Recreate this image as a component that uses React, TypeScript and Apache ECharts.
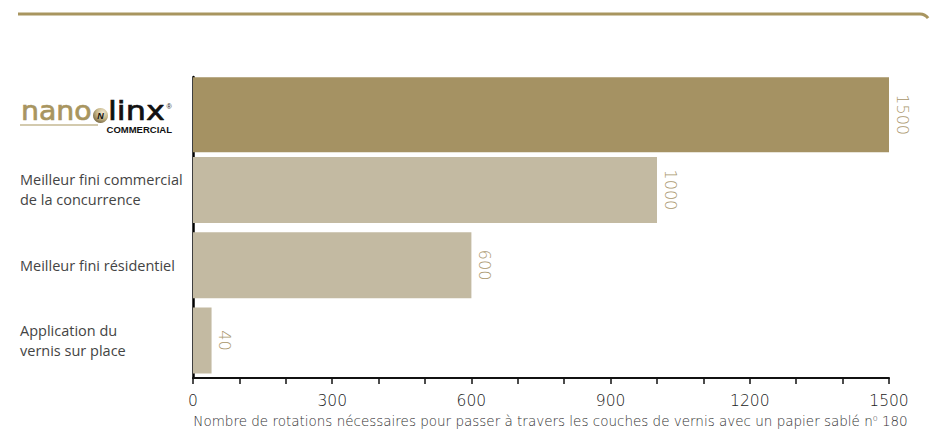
import React, { useEffect, useRef } from "react";
import * as echarts from "echarts";

const categories = [
  "nanolinx COMMERCIAL",
  "Meilleur fini commercial\nde la concurrence",
  "Meilleur fini résidentiel",
  "Application du\nvernis sur place",
];
const nanolinxValues = [1500, "-", "-", "-"];
const otherValues = ["-", 1000, 600, 40];
const xAxisName = "Nombre de rotations nécessaires pour passer à travers les couches de vernis avec un papier sablé n{sup|o} 180";

const GOLD = "#a59263";
const LIGHT = "#c3baa2";
const LABEL_GOLD = "#a8956a";
const LINE_GOLD = "#a8955f";

export default function App() {
  const ref = useRef<HTMLDivElement>(null);
  useEffect(() => {
    document.body.style.margin = "0";
    if (!ref.current) return;
    const chart = echarts.init(ref.current, null, { renderer: "svg" });
    const barLabel = {
      show: true,
      position: "right",
      rotate: -90,
      distance: 13,
      align: "center",
      verticalAlign: "middle",
      fontSize: 16,
      fontFamily: "DejaVu Sans",
      fontWeight: 200,
      color: LABEL_GOLD,
    };
    chart.setOption({
      animation: false,
      grid: { left: 193, right: 45, top: 77, bottom: 53, containLabel: false, outerBoundsMode: "none" },
      xAxis: {
        type: "value",
        min: 0,
        max: 1500,
        interval: 300,
        name: xAxisName,
        nameLocation: "middle",
        nameGap: 36,
        nameTextStyle: {
          fontSize: 13.5,
          fontFamily: "DejaVu Sans",
          fontWeight: 200,
          color: "#333",
          padding: [0, 0, 0, 19],
          rich: { sup: { fontSize: 8, verticalAlign: "top", padding: [0, 0, 5, 0], color: "#333", fontFamily: "DejaVu Sans", fontWeight: 200 } },
        },
        axisLine: { show: true, lineStyle: { color: "#111", width: 2 } },
        axisTick: { show: true, length: 6, lineStyle: { color: "#111", width: 1.5 } },
        minorTick: { show: true, splitNumber: 3, length: 6, lineStyle: { color: "#111", width: 1.5 } },
        splitLine: { show: false },
        minorSplitLine: { show: false },
        axisLabel: {
          fontSize: 15.5,
          fontFamily: "DejaVu Sans",
          fontWeight: 200,
          color: "#222",
          margin: 15,
          formatter: (v: number) => String(v),
        },
      },
      yAxis: [
        {
          type: "category",
          inverse: true,
          data: categories,
          axisLine: { show: true, lineStyle: { color: "#000", width: 2.5 } },
          axisTick: { show: false },
          axisLabel: {
            align: "left",
            margin: 173,
            fontSize: 14.5,
            lineHeight: 20,
            fontFamily: "Open Sans",
            color: "#444",
            formatter: (v: string, i: number) => (i === 0 ? "" : v),
          },
        },
        {
          type: "category",
          inverse: true,
          position: "left",
          data: categories,
          axisLine: { show: false },
          axisTick: { show: false },
          axisLabel: { show: false },
        },
      ],
      series: [
        {
          type: "bar",
          yAxisIndex: 0,
          data: nanolinxValues,
          barWidth: 75,
          itemStyle: { color: GOLD },
          label: barLabel,
        },
        {
          type: "bar",
          yAxisIndex: 1,
          data: otherValues,
          barWidth: 66,
          itemStyle: { color: LIGHT },
          label: barLabel,
        },
      ],
      graphic: [
        { type: "line", shape: { x1: 18, y1: 14, x2: 920, y2: 14 }, style: { stroke: LINE_GOLD, lineWidth: 3 } },
        {
          type: "arc",
          shape: { cx: 920, cy: 24, r: 10, startAngle: -Math.PI / 2, endAngle: -Math.PI / 5, clockwise: true },
          style: { stroke: LINE_GOLD, lineWidth: 3, fill: "none" },
        },
        {
          type: "text",
          x: 21,
          y: 110.7,
          scaleX: 1.05,
          style: { text: "nano", font: "27px 'DejaVu Sans'", fill: "#a8955f", stroke: "#a8955f", lineWidth: 0.7, textVerticalAlign: "middle" },
        },
        {
          type: "circle",
          shape: { cx: 100.5, cy: 115.5, r: 7.5 },
          style: {
            fill: new echarts.graphic.RadialGradient(0.65, 0.3, 0.8, [
              { offset: 0, color: "#f0e8d2" },
              { offset: 0.5, color: "#c8b88a" },
              { offset: 1, color: "#6e5f3a" },
            ]),
          },
        },
        {
          type: "text",
          x: 100.5,
          y: 115.5,
          style: { text: "N", font: "italic bold 9px 'Liberation Sans'", fill: "#111", textAlign: "center", textVerticalAlign: "middle" },
        },
        {
          type: "text",
          x: 108,
          y: 110.7,
          scaleX: 1.18,
          style: { text: "linx", font: "27px 'DejaVu Sans'", fill: "#111", stroke: "#111", lineWidth: 0.7, textVerticalAlign: "middle" },
        },
        {
          type: "text",
          x: 166.5,
          y: 106,
          style: { text: "®", font: "7px 'Liberation Sans'", fill: "#111", textVerticalAlign: "middle" },
        },
        { type: "line", shape: { x1: 20, y1: 125, x2: 98, y2: 125 }, style: { stroke: LINE_GOLD, lineWidth: 1.2 } },
        {
          type: "text",
          x: 172,
          y: 129.5,
          style: { text: "COMMERCIAL", font: "bold 9.5px 'Liberation Sans'", fill: "#111", textAlign: "right", textVerticalAlign: "middle" },
        },
      ],
    });
    return () => chart.dispose();
  }, []);
  return <div ref={ref} style={{ width: 934, height: 431 }} />;
}
